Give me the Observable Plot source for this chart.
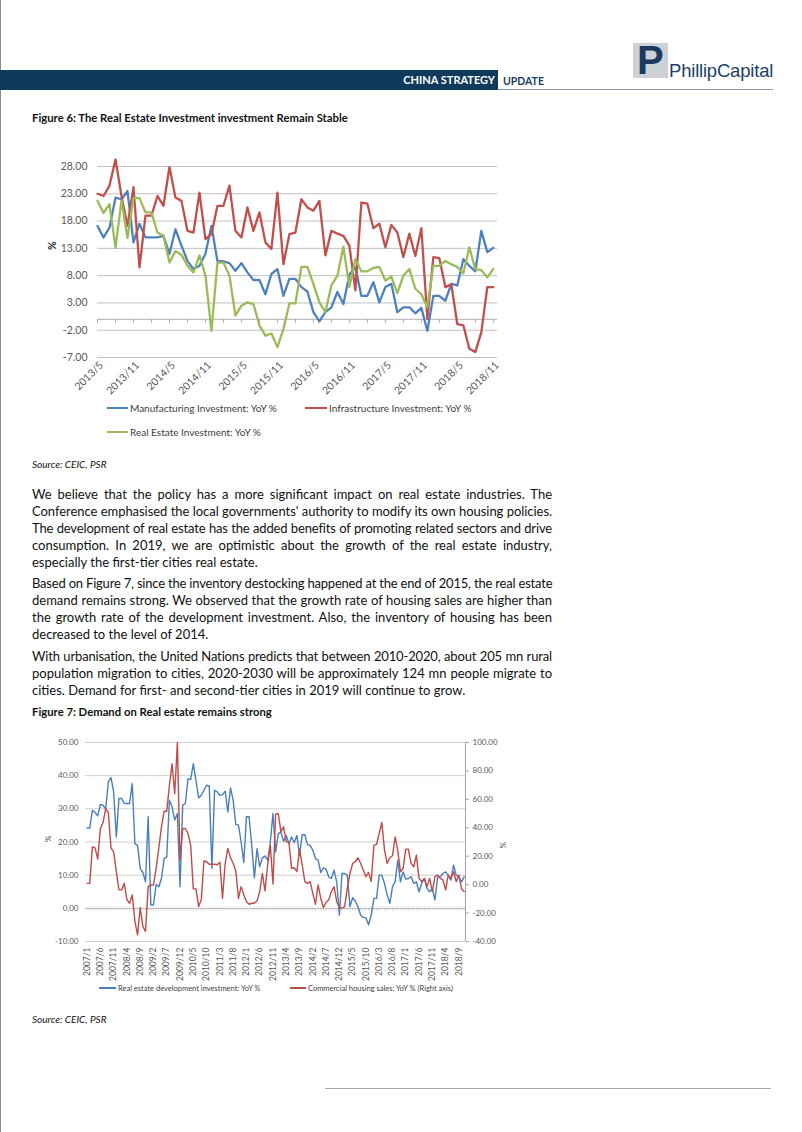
<!DOCTYPE html>
<html><head><meta charset="utf-8">
<script src="https://cdn.jsdelivr.net/npm/d3@7"></script>
<script src="https://cdn.jsdelivr.net/npm/@observablehq/plot@0.6"></script>
<style>
html,body{margin:0;padding:0;background:#fff}
body{width:802px;height:1132px;position:relative;overflow:hidden;font-family:Lato,"Liberation Sans",sans-serif;color:#111}
.a{position:absolute;white-space:nowrap}
.jl{position:absolute;left:32px;width:520px;font-size:13px;line-height:17px;height:17px;text-align:justify;text-align-last:justify;white-space:nowrap;color:#111;overflow:visible}
.jl.last{text-align-last:left}
.ftitle{font-weight:bold;font-size:11.3px;color:#111}
.src{font-style:italic;font-size:10px;color:#111}
.chart{position:absolute;left:0}
</style></head><body>
<script>
// ---------------- Figure 6 data (2013/5 .. 2018/11, monthly) ----------------
const fig6TickLabels = ["2013/5","2013/11","2014/5","2014/11","2015/5","2015/11","2016/5","2016/11","2017/5","2017/11","2018/5","2018/11"];
const fig6YTicks = [28, 23, 18, 13, 8, 3, -2, -7];
const manufacturing = [17.1,15.0,16.8,22.3,22.0,23.5,14.1,17.5,15.0,15.0,15.0,15.3,12.0,16.5,13.5,10.7,9.2,9.8,12.0,17.1,10.7,10.6,10.3,8.9,10.3,8.6,7.2,7.2,4.6,8.3,9.2,4.3,7.4,7.4,
  5.9,5.1,1.3,-0.4,1.3,2.2,5.0,2.8,8.2,9.5,4.3,4.3,6.8,3.1,5.9,6.5,1.3,2.2,2.2,1.1,2.1,-2.1,4.3,4.3,3.4,6.5,6.2,11.0,9.8,8.8,16.2,12.3,13.1];
const infrastructure = [23.0,22.6,24.5,29.3,22.6,17.1,24.2,9.5,19.0,19.0,22.6,20.8,27.9,22.3,21.7,16.2,15.9,23.2,14.7,15.6,20.8,20.8,24.5,16.2,15.0,20.5,16.2,19.6,14.1,12.9,23.2,10.1,15.6,15.9,
  22.0,20.5,19.9,21.7,11.7,16.2,15.7,15.3,13.5,5.3,21.4,21.2,16.7,17.5,13.2,17.3,15.9,11.4,15.7,11.6,16.7,0.1,11.4,11.2,5.9,6.4,-0.9,-1.1,-5.4,-6.0,-2.4,5.9,5.9];
const realEstate = [21.7,19.5,21.1,13.1,21.8,14.9,22.2,22.2,19.6,19.6,15.9,15.3,10.4,12.5,11.8,9.8,8.6,11.7,8.0,-2.1,10.4,10.4,8.0,0.7,2.5,3.1,2.8,-1.1,-3.0,-2.6,-5.1,-1.8,2.9,2.9,
  9.6,9.6,6.5,3.1,1.3,6.2,8.0,13.3,5.9,11.0,8.8,8.8,9.4,9.6,7.1,7.8,4.8,8.0,9.2,5.6,4.6,2.2,9.8,9.8,10.7,10.1,9.6,8.4,13.2,9.2,9.0,7.7,9.2];
const fig6Names = ["Manufacturing Investment: YoY %","Infrastructure Investment: YoY %","Real Estate Investment: YoY %"];
const fig6Colors = ["#4F81BD","#C0504D","#9BBB59"];

// ---------------- Figure 7 data (2007/1 .. 2018/11, monthly) ----------------
const fig7TickLabels = ["2007/1","2007/6","2007/11","2008/4","2008/9","2009/2","2009/7","2009/12","2010/5","2010/10","2011/3","2011/8","2012/1","2012/6","2012/11","2013/4","2013/9","2014/2","2014/7","2014/12","2015/5","2015/10","2016/3","2016/8","2017/1","2017/6","2017/11","2018/4","2018/9"];
const fig7LeftTicks = [50, 40, 30, 20, 10, 0, -10];
const fig7RightTicks = [100, 80, 60, 40, 20, 0, -20, -40];
const devInvestment = [
  24.2,24.2,29.6,28.9,27.9,31.3,31.1,29.9,38.1,39.4,
  35.1,21.5,33.1,33.1,31.6,31.6,31.6,37.6,19.5,19.0,
  12.0,10.8,8.0,27.6,1.0,1.0,7.2,6.5,9.0,15.0,
  15.5,32.6,30.6,26.6,28.6,6.5,31.1,31.6,39.1,38.8,
  43.6,38.6,33.3,34.1,35.6,37.1,36.9,12.0,35.6,35.1,
  34.1,34.3,35.3,29.1,36.3,32.6,25.3,25.1,20.0,13.8,
  27.6,27.6,19.0,9.2,18.0,12.5,15.2,15.8,14.5,20.0,
  28.6,17.0,22.5,23.0,20.2,22.0,19.5,21.5,19.8,22.0,
  16.0,22.2,22.2,19.2,19.0,17.5,15.0,14.5,10.8,12.2,
  11.8,9.5,9.0,11.5,8.0,-2.0,10.5,10.5,10.0,0.5,
  3.2,2.2,0.5,-2.0,-2.8,-2.8,-5.0,-2.0,3.0,3.0,
  10.0,10.0,7.5,4.0,1.5,6.5,8.0,14.5,8.0,11.0,
  8.8,9.0,9.5,7.5,8.0,5.0,7.5,9.0,6.0,5.0,
  6.0,2.5,9.5,9.5,10.5,11.0,10.0,8.5,13.0,10.0,
  9.5,8.0,9.5];
const housingSales = [
  0.9,0.9,26.6,25.9,18.0,39.5,43.7,53.5,50.7,25.9,
  23.1,9.1,-3.7,-3.7,0.9,-10.7,-13.1,-7.2,-25.9,-35.3,
  -16.1,-29.4,-32.9,-1.4,-0.2,-0.2,11.4,25.5,40.7,51.6,
  51.6,69.9,85.0,64.0,100.0,17.3,39.5,39.5,36.0,27.8,
  -3.0,-3.0,-15.4,-10.7,16.6,16.1,14.3,14.3,14.3,14.0,
  15.7,-9.6,15.0,25.5,18.9,15.0,9.6,-9.6,-1.4,-7.2,
  -11.9,-13.8,-13.1,-13.1,-11.4,-4.9,7.9,-4.4,13.8,27.8,
  0.5,49.5,50.0,37.1,40.7,30.1,30.1,11.4,11.9,9.1,
  25.0,13.8,2.1,0.9,2.1,-6.1,-13.8,-0.2,-9.6,-16.1,
  -12.4,-10.7,-4.9,-1.4,-11.9,-16.1,-16.6,-15.5,-2.6,7.9,
  15.0,16.1,18.9,15.0,10.3,5.6,8.6,2.1,27.8,28.3,
  36.0,43.7,24.3,15.0,18.9,20.3,33.6,24.0,9.1,11.4,
  25.0,25.0,15.0,12.6,20.8,4.4,2.1,4.4,-1.4,4.4,
  -4.9,5.6,6.8,4.4,3.3,-3.7,6.8,4.4,9.1,2.1,
  6.8,-3.0,-4.9];
const fig7Names = ["Real estate development investment: YoY %","Commercial housing sales: YoY % (Right axis)"];
const fig7Colors = ["#4A7EBB","#BE4B48"];

// ---------------- Text ----------------
const para1 = ["We believe that the policy has a more significant impact on real estate industries. The",
  "Conference emphasised the local governments' authority to modify its own housing policies.",
  "The development of real estate has the added benefits of promoting related sectors and drive",
  "consumption. In 2019, we are optimistic about the growth of the real estate industry,",
  "especially the first-tier cities real estate."];
const para2 = ["Based on Figure 7, since the inventory destocking happened at the end of 2015, the real estate",
  "demand remains strong. We observed that the growth rate of housing sales are higher than",
  "the growth rate of the development investment. Also, the inventory of housing has been",
  "decreased to the level of 2014."];
const para3 = ["With urbanisation, the United Nations predicts that between 2010-2020, about 205 mn rural",
  "population migration to cities, 2020-2030 will be approximately 124 mn people migrate to",
  "cities. Demand for first- and second-tier cities in 2019 will continue to grow."];
</script>
<script>
function el(tag, cls, css, html){const e=document.createElement(tag); if(cls) e.className=cls; if(css) e.style.cssText=css; if(html!=null) e.innerHTML=html; document.body.appendChild(e); return e;}

// page border & header
el("div","a","left:0;top:0;width:1px;height:1132px;background:#8c8c8c");
el("div","a","left:0;top:70px;width:498px;height:20px;background:#0f3a5c");
el("div","a","left:300px;width:195px;top:73px;font-size:11px;line-height:14px;font-weight:bold;color:#fff;text-align:right","CHINA STRATEGY");
el("div","a","left:503px;top:74px;font-size:10.5px;line-height:14px;font-weight:bold;color:#173f63","UPDATE");
el("div","a","left:498px;top:89px;width:275px;height:1px;background:#8798ab");
el("div","a","left:633px;top:43px;width:35px;height:35px;background:#ccd1d7");
el("div","a","left:637px;top:39px;font-family:'Liberation Sans',Arial,sans-serif;font-weight:bold;font-size:40px;line-height:42px;color:#1b3a5e","P");
el("div","a","left:669px;top:60px;font-family:'Liberation Sans',Arial,sans-serif;font-size:18.5px;line-height:22px;color:#1d3f68;letter-spacing:-0.2px","PhillipCapital");

el("div","a ftitle","left:32px;top:111px;line-height:14px","Figure 6: The Real Estate Investment investment Remain Stable");
el("div","a src","left:32px;top:457px;line-height:14px","Source: CEIC, PSR");

function paragraph(lines, top){lines.forEach((t,k)=>{el("div","jl"+(k===lines.length-1?" last":""),"top:"+(top+17*k)+"px",t);});}
paragraph(para1, 486);
paragraph(para2, 575);
paragraph(para3, 648);
el("div","a ftitle","left:32px;top:705px;line-height:14px","Figure 7: Demand on Real estate remains strong");
el("div","a src","left:32px;top:1012px;line-height:14px","Source: CEIC, PSR");
el("div","a","left:325px;top:1088px;width:446px;height:1px;background:#a6a6a6");

// ---------------- Figure 6 chart ----------------
const fig6LabelIdx = fig6TickLabels.map((_,k)=>k*6);
const fig6MinorIdx = d3.range(0, 67, 3);
const fig6Data = [manufacturing, infrastructure, realEstate];
const chart6 = Plot.plot({
  width: 802, height: 240,
  marginLeft: 97, marginRight: 305, marginTop: 16, marginBottom: 33,
  x: {domain: [0, 66.7], axis: null},
  y: {domain: [-7, 28], axis: null},
  style: {background: "transparent", color: "#595959", fontFamily: "Lato, sans-serif", fontSize: "10.5px", overflow: "visible"},
  marks: [
    Plot.ruleY(fig6YTicks, {stroke: "#c0c0c0", strokeWidth: 1}),
    Plot.ruleY([0], {stroke: "#b0b0b0", strokeWidth: 1}),
    Plot.ruleX(fig6MinorIdx, {x: d => d, y1: 0, y2: -0.8, stroke: "#b0b0b0"}),
    Plot.axisY(fig6YTicks, {anchor: "left", tickSize: 0, tickPadding: 10, tickFormat: d => d.toFixed(2), fontSize: 10.5}),
    Plot.axisX(fig6LabelIdx, {anchor: "bottom", tickSize: 0, tickPadding: 4, tickRotate: -45, dx: 4, dy: 2, tickFormat: d => fig6TickLabels[Math.round(d/6)], fontSize: 10.5}),
    Plot.text(["%"], {frameAnchor: "left", dx: -45, dy: -12, rotate: -90, fontSize: 10.5, fill: "#222", fontWeight: "bold"}),
    ...fig6Data.map((vals, s) => Plot.line(vals, {x: (d, i) => i, y: d => d, stroke: fig6Colors[s], strokeWidth: 2.3}))
  ]
});
chart6.classList.add("chart"); chart6.style.top = "150px"; chart6.style.position = "absolute";
document.body.appendChild(chart6);

function legendItem(left, cy, color, text, lineW, lineH, fs){
  const d = el("div","a","left:"+left+"px;top:"+(cy-8)+"px;height:16px;display:flex;align-items:center;color:#404040;font-size:"+fs+"px");
  const s = document.createElement("span"); s.style.cssText = "display:inline-block;width:"+lineW+"px;height:"+lineH+"px;background:"+color+";margin-right:2px";
  d.appendChild(s); d.appendChild(document.createTextNode(text));
}
legendItem(107, 408, fig6Colors[0], fig6Names[0], 21, 2.5, 10);
legendItem(305, 408, fig6Colors[1], fig6Names[1], 22, 2.5, 10);
legendItem(107, 432, fig6Colors[2], fig6Names[2], 21, 2.5, 10);

// ---------------- Figure 7 chart ----------------
const toLeft = r => -10 + (r + 40) * 60 / 140;
const fromLeft = l => (l + 10) * 140 / 60 - 40;
const fig7LabelIdx = fig7TickLabels.map((_,k)=>k*5);
const fig7MonthIdx = d3.range(0, devInvestment.length);
const chart7 = Plot.plot({
  width: 802, height: 270,
  marginLeft: 85, marginRight: 337, marginTop: 12, marginBottom: 59,
  x: {domain: [-0.6, 142.5], axis: null},
  y: {domain: [-10, 50], axis: null},
  style: {background: "transparent", color: "#595959", fontFamily: "Lato, sans-serif", fontSize: "8px", overflow: "visible"},
  marks: [
    Plot.ruleY(fig7LeftTicks.filter(d => d !== 0), {stroke: "#d0d0d0"}),
    Plot.ruleY([0], {stroke: "#b8b8b8"}),
    Plot.ruleX(fig7MonthIdx, {x: d => d, y1: 0, y2: -0.8, stroke: "#b8b8b8", strokeWidth: 0.6}),
    Plot.ruleX([142.5], {stroke: "#a6a6a6"}),
    Plot.axisY(fig7LeftTicks, {anchor: "left", tickSize: 0, tickPadding: 7, tickFormat: d => d.toFixed(2), fontSize: 8}),
    Plot.axisY(fig7RightTicks.map(toLeft), {anchor: "right", tickSize: 3, tickPadding: 4, stroke: "#a6a6a6", tickFormat: d => Math.round(fromLeft(d)).toFixed(2), fontSize: 8}),
    Plot.axisX(fig7LabelIdx, {anchor: "bottom", tickSize: 0, tickPadding: 6, tickRotate: -90, tickFormat: d => fig7TickLabels[Math.round(d/5)], fontSize: 8.5}),
    Plot.text(["%"], {frameAnchor: "left", dx: -37, rotate: -90, fontSize: 8, fill: "#404040"}),
    Plot.text(["%"], {frameAnchor: "right", dx: 38, rotate: -90, fontSize: 8, fill: "#404040"}),
    Plot.line(devInvestment, {x: (d, i) => i, y: d => d, stroke: fig7Colors[0], strokeWidth: 1.4}),
    Plot.line(housingSales, {x: (d, i) => i, y: d => toLeft(d), stroke: fig7Colors[1], strokeWidth: 1.4})
  ]
});
chart7.classList.add("chart"); chart7.style.top = "730px"; chart7.style.position = "absolute";
document.body.appendChild(chart7);
legendItem(99, 988, fig7Colors[0], fig7Names[0], 17, 1.5, 7.5);
legendItem(290, 988, fig7Colors[1], fig7Names[1], 16, 1.5, 7.5);

// fit justified lines
document.querySelectorAll(".jl").forEach(e => {
  let ls = 0;
  while (e.scrollWidth > e.clientWidth + 0.5 && ls > -1.5) { ls -= 0.05; e.style.letterSpacing = ls + "px"; }
});
</script>
</body></html>
